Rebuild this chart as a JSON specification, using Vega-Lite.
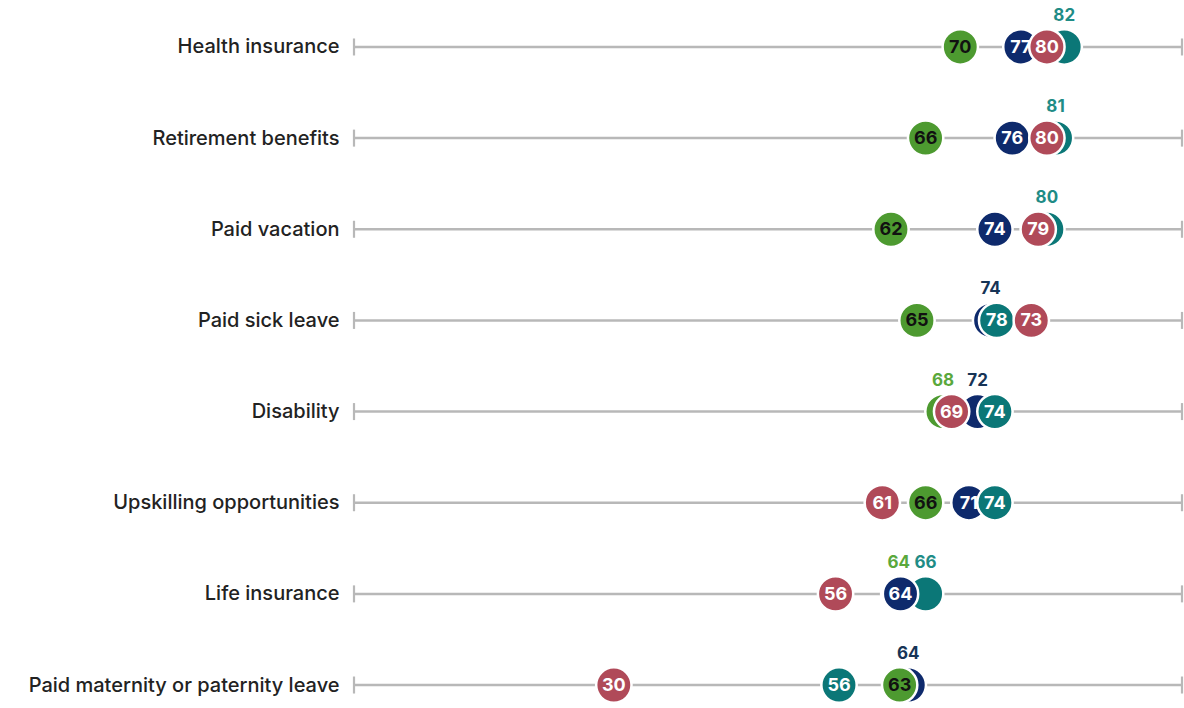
{
  "$schema": "https://vega.github.io/schema/vega-lite/v6.json",
  "width": 828,
  "height": 686,
  "autosize": {"type": "none"},
  "padding": {"left": 354, "top": 23, "right": 2, "bottom": 0},
  "background": "white",
  "config": {"view": {"stroke": null}, "font": "Inter"},
  "data": {
    "values": [
      {"benefit": "Health insurance", "group": "Group A", "value": 70, "label": "70", "hidden": false},
      {"benefit": "Health insurance", "group": "Group B", "value": 77, "label": "77", "hidden": false},
      {"benefit": "Health insurance", "group": "Group D", "value": 82, "label": "82", "hidden": true},
      {"benefit": "Health insurance", "group": "Group C", "value": 80, "label": "80", "hidden": false},
      {"benefit": "Retirement benefits", "group": "Group A", "value": 66, "label": "66", "hidden": false},
      {"benefit": "Retirement benefits", "group": "Group B", "value": 76, "label": "76", "hidden": false},
      {"benefit": "Retirement benefits", "group": "Group D", "value": 81, "label": "81", "hidden": true},
      {"benefit": "Retirement benefits", "group": "Group C", "value": 80, "label": "80", "hidden": false},
      {"benefit": "Paid vacation", "group": "Group A", "value": 62, "label": "62", "hidden": false},
      {"benefit": "Paid vacation", "group": "Group B", "value": 74, "label": "74", "hidden": false},
      {"benefit": "Paid vacation", "group": "Group D", "value": 80, "label": "80", "hidden": true},
      {"benefit": "Paid vacation", "group": "Group C", "value": 79, "label": "79", "hidden": false},
      {"benefit": "Paid sick leave", "group": "Group A", "value": 65, "label": "65", "hidden": false},
      {"benefit": "Paid sick leave", "group": "Group B", "value": 73.5, "label": "74", "hidden": true},
      {"benefit": "Paid sick leave", "group": "Group D", "value": 74.2, "label": "78", "hidden": false},
      {"benefit": "Paid sick leave", "group": "Group C", "value": 78.2, "label": "73", "hidden": false},
      {"benefit": "Disability", "group": "Group A", "value": 68, "label": "68", "hidden": true},
      {"benefit": "Disability", "group": "Group B", "value": 72, "label": "72", "hidden": true},
      {"benefit": "Disability", "group": "Group C", "value": 69, "label": "69", "hidden": false},
      {"benefit": "Disability", "group": "Group D", "value": 74, "label": "74", "hidden": false},
      {"benefit": "Upskilling opportunities", "group": "Group C", "value": 61, "label": "61", "hidden": false},
      {"benefit": "Upskilling opportunities", "group": "Group A", "value": 66, "label": "66", "hidden": false},
      {"benefit": "Upskilling opportunities", "group": "Group B", "value": 71, "label": "71", "hidden": false},
      {"benefit": "Upskilling opportunities", "group": "Group D", "value": 74, "label": "74", "hidden": false},
      {"benefit": "Life insurance", "group": "Group C", "value": 55.6, "label": "56", "hidden": false},
      {"benefit": "Life insurance", "group": "Group A", "value": 62.9, "label": "64", "hidden": true},
      {"benefit": "Life insurance", "group": "Group D", "value": 66, "label": "66", "hidden": true},
      {"benefit": "Life insurance", "group": "Group B", "value": 63.1, "label": "64", "hidden": false},
      {"benefit": "Paid maternity or paternity leave", "group": "Group C", "value": 30, "label": "30", "hidden": false},
      {"benefit": "Paid maternity or paternity leave", "group": "Group D", "value": 56, "label": "56", "hidden": false},
      {"benefit": "Paid maternity or paternity leave", "group": "Group B", "value": 64, "label": "64", "hidden": true},
      {"benefit": "Paid maternity or paternity leave", "group": "Group A", "value": 63, "label": "63", "hidden": false}
    ]
  },
  "encoding": {
    "y": {
      "field": "benefit",
      "type": "nominal",
      "sort": ["Health insurance", "Retirement benefits", "Paid vacation", "Paid sick leave", "Disability", "Upskilling opportunities", "Life insurance", "Paid maternity or paternity leave"],
      "scale": {"type": "point", "padding": 0.263},
      "axis": {"title": null, "domain": false, "ticks": false, "grid": false, "labelFontSize": 20, "labelColor": "#222222", "labelPadding": 15, "labelFont": "Inter", "labelFontWeight": 500, "labelLimit": 0}
    }
  },
  "layer": [
    {
      "transform": [{"aggregate": [{"op": "count", "as": "n"}], "groupby": ["benefit"]}],
      "mark": {"type": "rule", "color": "#b8b8b8", "strokeWidth": 2.5},
      "encoding": {
        "x": {"datum": 0, "type": "quantitative", "scale": {"domain": [0, 95.6], "nice": false, "zero": true}, "axis": null},
        "x2": {"datum": 95.6}
      }
    },
    {
      "transform": [{"aggregate": [{"op": "count", "as": "n"}], "groupby": ["benefit"]}],
      "mark": {"type": "tick", "color": "#b8b8b8", "orient": "vertical", "size": 17, "thickness": 2.2, "opacity": 1},
      "encoding": {"x": {"datum": 0, "type": "quantitative"}}
    },
    {
      "transform": [{"aggregate": [{"op": "count", "as": "n"}], "groupby": ["benefit"]}],
      "mark": {"type": "tick", "color": "#b8b8b8", "orient": "vertical", "size": 17, "thickness": 2.2, "opacity": 1},
      "encoding": {"x": {"datum": 95.6, "type": "quantitative"}}
    },
    {
      "mark": {"type": "circle", "size": 1250, "opacity": 1, "stroke": "white", "strokeWidth": 2.5},
      "encoding": {
        "x": {"field": "value", "type": "quantitative"},
        "color": {
          "field": "group",
          "type": "nominal",
          "scale": {"domain": ["Group A", "Group B", "Group C", "Group D"], "range": ["#4d9a30", "#0e2a6c", "#b04a59", "#0b7777"]},
          "legend": null
        }
      }
    },
    {
      "transform": [{"filter": "!datum.hidden"}],
      "mark": {"type": "text", "fontSize": 18, "fontWeight": "bold", "font": "Inter", "align": "center", "baseline": "middle", "dy": 1},
      "encoding": {
        "x": {"field": "value", "type": "quantitative"},
        "text": {"field": "label"},
        "color": {"condition": {"test": "datum.group === 'Group A'", "value": "#111111"}, "value": "#ffffff"}
      }
    },
    {
      "transform": [{"filter": "datum.hidden"}],
      "mark": {"type": "text", "fontSize": 17, "fontWeight": "bold", "font": "Inter", "align": "center", "baseline": "middle", "dy": -31},
      "encoding": {
        "x": {"field": "value", "type": "quantitative"},
        "text": {"field": "label"},
        "fill": {
          "field": "group",
          "type": "nominal",
          "scale": {"domain": ["Group A", "Group B", "Group C", "Group D"], "range": ["#5aa83c", "#163456", "#b04a59", "#1f8c86"]},
          "legend": null
        }
      }
    }
  ],
  "resolve": {"scale": {"color": "independent", "fill": "independent"}}
}
